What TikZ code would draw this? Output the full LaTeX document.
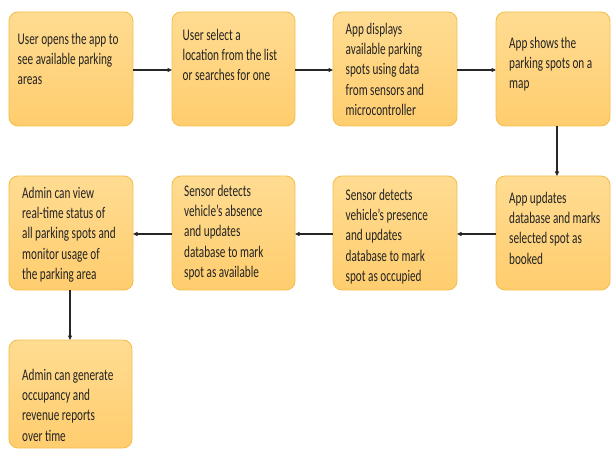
\documentclass[tikz,border=0pt]{standalone}
\usepackage{fontspec}
\usepackage{graphicx}
\setmainfont{Carlito}
\usetikzlibrary{arrows.meta}
\definecolor{boxtop}{HTML}{FFDC92}
\definecolor{boxbot}{HTML}{FFCD6E}
\definecolor{boxline}{HTML}{F3C04F}
\definecolor{txt}{HTML}{222222}
\newcommand{\bt}[1]{\scalebox{0.69}[1]{\parbox[t]{185bp}{\raggedright\strut #1}}}
\tikzset{
  box/.style={rectangle, rounded corners=9bp, draw=boxline, line width=0.9bp,
    top color=boxtop, bottom color=boxbot, inner sep=0pt, outer sep=0pt},
  wide/.style={minimum width=124bp, minimum height=114bp},
  narrow/.style={minimum width=114bp, minimum height=114bp},
  txtnode/.style={anchor=north west, inner sep=0pt,
    text=txt, font=\fontsize{16.3}{20.3}\selectfont},
  arr/.style={-{Triangle[length=4.5bp,width=4bp]}, line width=1.1bp, draw=black!85}
}
\begin{document}
\begin{tikzpicture}[x=1bp,y=-1bp]
\useasboundingbox (0,0) rectangle (612,450);
% row 1
\node[box,wide] (b1) at (71,69) {};
\node[box,wide,minimum width=123bp] (b2) at (233.5,69) {};
\node[box,wide] (b3) at (395,69) {};
\node[box,narrow] (b4) at (553,69) {};
% row 2
\node[box,narrow] (b5) at (553,233) {};
\node[box,wide] (b6) at (395,233) {};
\node[box,wide,minimum width=123bp] (b7) at (233.5,233) {};
\node[box,wide] (b8) at (71,233) {};
% row 3
\node[box,minimum width=123bp,minimum height=108bp] (b9) at (70.5,394) {};
% texts
\node[txtnode] (t1) at (17.5,30) {\bt{User opens the app to\\see available parking\\areas}};
\node[txtnode] (t2) at (182.5,26) {\bt{User select a\\location from the list\\or searches for one}};
\node[txtnode] (t3) at (345.5,20) {\bt{App displays\\available parking\\spots using data\\from sensors and\\microcontroller}};
\node[txtnode] (t4) at (509,34) {\bt{App shows the\\parking spots on a\\map}};
\node[txtnode] (t5) at (509,189) {\bt{App updates\\database and marks\\selected spot as\\booked}};
\node[txtnode] (t6) at (345.5,186) {\bt{Sensor detects\\vehicle’s presence\\and updates\\database to mark\\spot as occupied}};
\node[txtnode] (t7) at (184,182) {\bt{Sensor detects\\vehicle’s absence\\and updates\\database to mark\\spot as available}};
\node[txtnode] (t8) at (22,184) {\bt{Admin can view\\real-time status of\\all parking spots and\\monitor usage of\\the parking area}};
\node[txtnode] (t9) at (22,366) {\bt{Admin can generate\\occupancy and\\revenue reports\\over time}};
% connectors
\draw[arr] ([yshift=-1bp]b1.east) -- ([yshift=-1bp]b2.west);
\draw[arr] ([yshift=-1bp]b2.east) -- ([yshift=-1bp]b3.west);
\draw[arr] ([yshift=-1bp]b3.east) -- ([yshift=-1bp]b4.west);
\draw[arr] ([xshift=4bp]b4.south) -- ([xshift=4bp]b5.north);
\draw[arr] ([yshift=-1bp]b5.west) -- ([yshift=-1bp]b6.east);
\draw[arr] ([yshift=-1bp]b6.west) -- ([yshift=-1bp]b7.east);
\draw[arr] ([yshift=-1bp]b7.west) -- ([yshift=-1bp]b8.east);
\draw[arr] ([xshift=-1bp]b8.south) -- ([xshift=-0.5bp]b9.north);
\end{tikzpicture}
\end{document}
